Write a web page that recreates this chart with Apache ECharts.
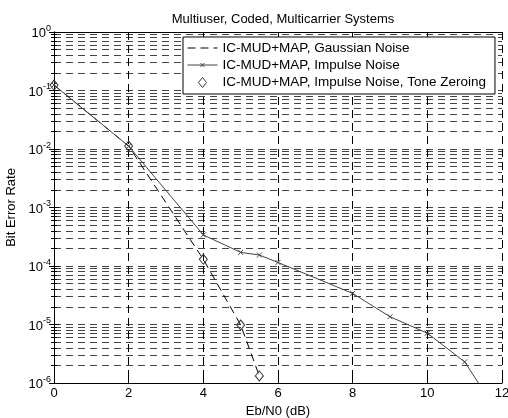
<!DOCTYPE html>
<html>
<head>
<meta charset="utf-8">
<script src="https://cdn.jsdelivr.net/npm/echarts@6/dist/echarts.min.js"></script>
<style>
html, body { margin: 0; padding: 0; background: #fff; }
#chart { width: 508px; height: 418px; }
</style>
</head>
<body>
<div id="chart"></div>
<script>
// 曲线数据 (Eb/N0 in dB, bit error rate)
const gaussX = [0, 2, 4, 5, 5.5]
const gaussBer = [0.124, 0.0112, 1.3e-4, 9.8e-6, 1.32e-6]
const impulseX = [0, 2, 4, 5, 5.5, 6, 8, 9, 10, 11, 12]
const impulseBer = [0.124, 0.0112, 3.4e-4, 1.71e-4, 1.54e-4, 1.15e-4, 3.4e-5, 1.36e-5, 7.1e-6, 2.3e-6, 2.4e-7]
const zeroX = [0, 2, 4, 5, 5.5]
const zeroBer = [0.124, 0.0112, 1.3e-4, 9.8e-6, 1.32e-6]
const names = [
  'IC-MUD+MAP, Gaussian Noise',
  'IC-MUD+MAP, Impulse Noise',
  'IC-MUD+MAP, Impulse Noise, Tone Zeroing'
]
const titleText = 'Multiuser, Coded, Multicarrier Systems'

const font = 'Liberation Sans, Arial, sans-serif'
const pairs = (xs, ys) => xs.map((x, i) => [x, ys[i]])

const chart = echarts.init(document.getElementById('chart'))

const yBase = {
  type: 'log',
  logBase: 10,
  min: 1e-6,
  max: 1,
  axisLine: { show: true, lineStyle: { color: '#000', width: 1 } },
  axisTick: { show: true, inside: true, length: 5, lineStyle: { color: '#000' } },
  minorTick: { show: true, splitNumber: 9, length: 3, lineStyle: { color: '#000' } }
}

const option = {
  animation: false,
  backgroundColor: '#fff',
  textStyle: { fontFamily: font },
  title: {
    text: titleText,
    left: 278,
    top: 8,
    textAlign: 'center',
    textStyle: { fontSize: 13, fontWeight: 'normal', color: '#000', fontFamily: font }
  },
  grid: { left: 54, right: 6, top: 32, bottom: 35, outerBoundsMode: 'none' },
  legend: {
    orient: 'vertical',
    left: 183,
    top: 37,
    padding: [4, 9, 4, 2],
    itemGap: 3,
    itemWidth: 30,
    itemHeight: 10,
    backgroundColor: '#fff',
    borderColor: '#000',
    borderWidth: 1,
    borderRadius: 0,
    textStyle: { fontSize: 13.5, color: '#000', fontFamily: font },
    data: [
      { name: names[0], itemStyle: { opacity: 0 }, lineStyle: { width: 1 } },
      {
        name: names[1],
        icon: 'path://M0,5L30,5M13,3L17,7M17,3L13,7',
        itemStyle: { color: 'none', borderColor: '#444', borderWidth: 1 }
      },
      {
        name: names[2],
        icon: 'path://M4,0L8,5L4,10L0,5Z',
        itemStyle: { color: 'none', borderColor: '#333', borderWidth: 1 }
      }
    ]
  },
  xAxis: [{
    type: 'value',
    min: 0,
    max: 12,
    interval: 2,
    name: 'Eb/N0 (dB)',
    nameLocation: 'middle',
    nameGap: 17,
    nameTextStyle: { fontSize: 13, color: '#000' },
    axisLine: { show: true, lineStyle: { color: '#000' } },
    axisTick: { show: true, inside: true, length: 5, lineStyle: { color: '#000' } },
    axisLabel: { color: '#000', fontSize: 13, margin: 4 },
    splitLine: { show: true, lineStyle: { color: '#000', type: [8, 5], width: 1 } }
  }, {
    type: 'value',
    position: 'top',
    min: 0,
    max: 12,
    interval: 2,
    axisLine: { show: true, onZero: false, lineStyle: { color: '#000' } },
    axisTick: { show: true, inside: true, length: 5, lineStyle: { color: '#000' } },
    axisLabel: { show: false },
    splitLine: { show: false }
  }],
  yAxis: [Object.assign({}, yBase, {
    name: 'Bit Error Rate',
    nameLocation: 'middle',
    nameGap: 34,
    nameTextStyle: { fontSize: 13, color: '#000' },
    axisLabel: {
      margin: 3,
      formatter: function (v) {
        const e = Math.round(Math.log10(v))
        return '{b|10}{e|' + e + '}'
      },
      rich: {
        b: { fontSize: 13, color: '#000', fontFamily: font, verticalAlign: 'bottom', padding: [3, 0, 0, 0] },
        e: { fontSize: 9, color: '#000', fontFamily: font, verticalAlign: 'top', padding: [0, 0, 5, 0] }
      }
    },
    splitLine: { show: true, lineStyle: { color: '#444', type: [7, 5], width: 1 } },
    minorSplitLine: { show: true, lineStyle: { color: '#444', type: [7, 5], width: 1 } }
  }), Object.assign({}, yBase, {
    position: 'right',
    axisLabel: { show: false },
    splitLine: { show: false }
  })],
  series: [{
    name: names[0],
    type: 'line',
    data: pairs(gaussX, gaussBer),
    symbol: 'none',
    lineStyle: { color: '#000', width: 1, type: [8, 5] },
    itemStyle: { color: '#000' },
    z: 3
  }, {
    name: names[1],
    type: 'line',
    data: pairs(impulseX, impulseBer),
    symbol: 'path://M0,0L10,10M10,0L0,10',
    symbolSize: 5,
    lineStyle: { color: '#444', width: 1 },
    itemStyle: { color: 'none', borderColor: '#444', borderWidth: 1 },
    z: 4
  }, {
    name: names[2],
    type: 'line',
    data: pairs(zeroX, zeroBer),
    symbol: 'diamond',
    symbolSize: [8, 10],
    showAllSymbol: true,
    lineStyle: { opacity: 0 },
    itemStyle: { color: 'rgba(255,255,255,0)', borderColor: '#333', borderWidth: 1 },
    z: 5
  }]
}

chart.setOption(option)
</script>
</body>
</html>
